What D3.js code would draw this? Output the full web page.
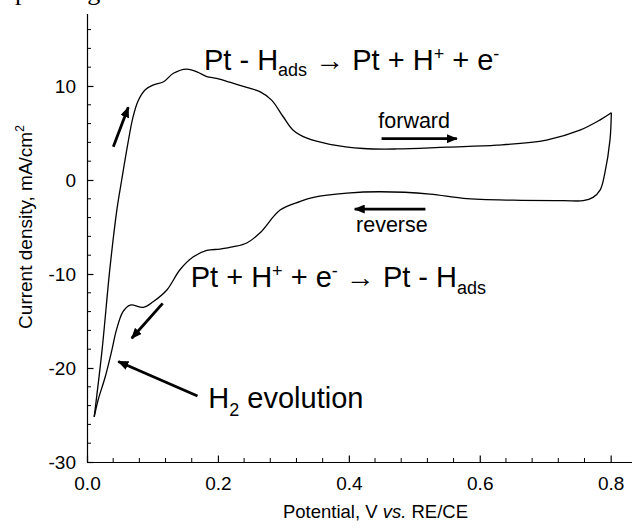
<!DOCTYPE html>
<html>
<head>
<meta charset="utf-8">
<script src="https://cdn.jsdelivr.net/npm/d3@7"></script>
<style>
	body { margin: 0; background: #fff; }
	svg { display: block; font-family: "Liberation Sans", Arial, sans-serif; }
</style>
</head>
<body>
<svg id="chart" width="632" height="529"></svg>
<script>
// Cyclic voltammogram, potential in V, current density in mA/cm2
var forwardV = [0.011, 0.023, 0.035, 0.046, 0.053, 0.062, 0.070, 0.078, 0.089, 0.101, 0.117, 0.132, 0.152, 0.168, 0.183, 0.198, 0.218, 0.244, 0.264, 0.282, 0.300, 0.315, 0.336, 0.371, 0.422, 0.473, 0.550, 0.626, 0.702, 0.753, 0.784, 0.801];
var forwardJ = [-25.2, -18.1, -9.4, -3.0, 0.0, 3.7, 6.6, 8.4, 9.6, 10.1, 10.45, 11.35, 11.8, 11.5, 11.0, 10.8, 10.4, 9.85, 9.4, 8.5, 6.7, 5.3, 4.45, 3.8, 3.35, 3.3, 3.5, 3.7, 4.25, 5.3, 6.4, 7.15];

var reverseV = [0.801, 0.799, 0.791, 0.784, 0.773, 0.758, 0.728, 0.651, 0.575, 0.524, 0.448, 0.397, 0.346, 0.325, 0.295, 0.264, 0.244, 0.224, 0.203, 0.183, 0.162, 0.142, 0.122, 0.101, 0.086, 0.066, 0.055, 0.045, 0.038, 0.028, 0.017, 0.011];
var reverseJ = [7.15, 4.3, 0.7, -1.05, -1.85, -2.2, -2.2, -2.15, -1.95, -1.5, -1.25, -1.4, -1.85, -2.3, -3.2, -5.65, -6.7, -7.1, -7.35, -7.5, -8.2, -9.55, -11.7, -12.95, -13.55, -13.3, -14.0, -15.95, -18.1, -20.9, -23.4, -25.2];

var xTicks = [0, 0.2, 0.4, 0.6, 0.8];
var xTickLabels = ["0.0", "0.2", "0.4", "0.6", "0.8"];
var yTicks = [-30, -20, -10, 0, 10];
var yTickLabels = ["-30", "-20", "-10", "0", "10"];

// arrows: [v1, j1, v2, j2] from tail to head
var arrows = [
	[0.0402, 3.54, 0.0631, 7.73],
	[0.1156, -13.12, 0.0683, -16.84],
	[0.1688, -22.98, 0.0478, -19.31],
	[0.450, 4.39, 0.565, 4.39],
	[0.517, -3.09, 0.409, -3.09]
];

var svg = d3.select("#chart");

var x = d3.scaleLinear().domain([0, 0.84]).range([87, 87 + 0.84 * 654.6]);
var y = d3.scaleLinear().domain([-30, 17.7]).range([462, 13.6]);

// defs - arrow head
svg.append("defs").append("marker")
	.attr("id", "head")
	.attr("markerUnits", "userSpaceOnUse")
	.attr("viewBox", "0 0 11 9")
	.attr("refX", 10)
	.attr("refY", 4.5)
	.attr("markerWidth", 11)
	.attr("markerHeight", 9)
	.attr("orient", "auto")
	.append("path")
	.attr("d", "M0,0L11,4.5L0,9Z")
	.attr("fill", "#000");

// caption line from the page above, only its bottom shows
svg.append("text")
	.attr("x", 2)
	.attr("y", -0.5)
	.style("font-family", "'Liberation Serif', 'Times New Roman', serif")
	.style("font-size", "26px")
	.text("operating conditions");

// Axes
var yAxis = d3.axisLeft(y)
	.tickValues(yTicks)
	.tickFormat(function(d, i) { return yTickLabels[i]; })
	.tickSizeInner(-6.5)
	.tickSizeOuter(0)
	.tickPadding(11);

var xAxis = d3.axisBottom(x)
	.tickValues(xTicks)
	.tickFormat(function(d, i) { return xTickLabels[i]; })
	.tickSizeInner(-6.5)
	.tickSizeOuter(0)
	.tickPadding(15);

var gy = svg.append("g")
	.attr("class", "y-axis")
	.attr("transform", "translate(" + x(0) + ",0)")
	.call(yAxis);

var gx = svg.append("g")
	.attr("class", "x-axis")
	.attr("transform", "translate(0," + y(-30) + ")")
	.call(xAxis);

// minor ticks
gy.selectAll(".minor")
	.data(d3.range(-28, 17, 2).filter(function(d) { return d % 10 !== 0; }))
	.enter()
	.append("line")
	.attr("class", "minor")
	.attr("x1", 0)
	.attr("x2", 4)
	.attr("y1", function(d) { return y(d); })
	.attr("y2", function(d) { return y(d); })
	.attr("stroke", "#000");

gx.selectAll(".minor")
	.data(d3.range(1, 21).map(function(d) { return d * 0.04; }).filter(function(d, i) { return (i + 1) % 5 !== 0; }))
	.enter()
	.append("line")
	.attr("class", "minor")
	.attr("x1", function(d) { return x(d); })
	.attr("x2", function(d) { return x(d); })
	.attr("y1", 0)
	.attr("y2", -4)
	.attr("stroke", "#000");

svg.selectAll(".y-axis text, .x-axis text")
	.style("font-family", "'Liberation Sans', Arial, sans-serif")
	.style("font-size", "19px")
	.attr("fill", "#000");

svg.selectAll(".domain, .tick line").attr("stroke", "#000").attr("stroke-width", 1.2);

// axis titles
var xt = svg.append("text")
	.attr("x", 375.5)
	.attr("y", 518)
	.attr("text-anchor", "middle")
	.style("font-size", "18.5px");
xt.append("tspan").text("Potential, V ");
xt.append("tspan").style("font-style", "italic").text("vs.");
xt.append("tspan").text(" RE/CE");

var yt = svg.append("text")
	.attr("transform", "translate(32,227) rotate(-90)")
	.attr("text-anchor", "middle")
	.style("font-size", "19px");
yt.append("tspan").text("Current density, mA/cm");
yt.append("tspan").attr("dy", -8).style("font-size", "12px").text("2");

// CV curve
var line = d3.line()
	.x(function(d) { return x(d[0]); })
	.y(function(d) { return y(d[1]); })
	.curve(d3.curveCatmullRom.alpha(0.5));

var forward = forwardV.map(function(v, i) { return [v, forwardJ[i]]; });
var reverse = reverseV.map(function(v, i) { return [v, reverseJ[i]]; });

svg.append("path")
	.datum(forward)
	.attr("d", line)
	.attr("fill", "none")
	.attr("stroke", "#000")
	.attr("stroke-width", 1.3);

svg.append("path")
	.datum(reverse)
	.attr("d", line)
	.attr("fill", "none")
	.attr("stroke", "#000")
	.attr("stroke-width", 1.3);

// arrows
svg.selectAll(".arrow")
	.data(arrows)
	.enter()
	.append("line")
	.attr("class", "arrow")
	.attr("x1", function(d) { return x(d[0]); })
	.attr("y1", function(d) { return y(d[1]); })
	.attr("x2", function(d) { return x(d[2]); })
	.attr("y2", function(d) { return y(d[3]); })
	.attr("stroke", "#000")
	.attr("stroke-width", 2.8)
	.attr("marker-end", "url(#head)");

// annotations
function addSub(t, s, dy) {
	t.append("tspan").attr("dy", dy).style("font-size", "18px").text(s);
}

var a1 = svg.append("text")
	.attr("x", x(0.1787))
	.attr("y", y(11.7))
	.style("font-size", "29px");
a1.append("tspan").text("Pt - H");
addSub(a1, "ads", 6);
a1.append("tspan").attr("dy", -6).text(" \u2192 Pt + H");
addSub(a1, "+", -10);
a1.append("tspan").attr("dy", 10).text(" + e");
addSub(a1, "-", -10);

var a2 = svg.append("text")
	.attr("x", x(0.1584))
	.attr("y", y(-11.41))
	.style("font-size", "29px");
a2.append("tspan").text("Pt + H");
addSub(a2, "+", -10);
a2.append("tspan").attr("dy", 10).text(" + e");
addSub(a2, "-", -10);
a2.append("tspan").attr("dy", 10).text(" \u2192 Pt - H");
addSub(a2, "ads", 7);

var a3 = svg.append("text")
	.attr("x", x(0.1853))
	.attr("y", y(-24.29))
	.style("font-size", "29px");
a3.append("tspan").text("H");
addSub(a3, "2", 8);
a3.append("tspan").attr("dy", -8).text(" evolution");

svg.append("text")
	.attr("x", x(0.445))
	.attr("y", y(5.56))
	.style("font-size", "21.5px")
	.text("forward");

svg.append("text")
	.attr("x", x(0.411))
	.attr("y", y(-5.5))
	.style("font-size", "21.5px")
	.text("reverse");
</script>
</body>
</html>
